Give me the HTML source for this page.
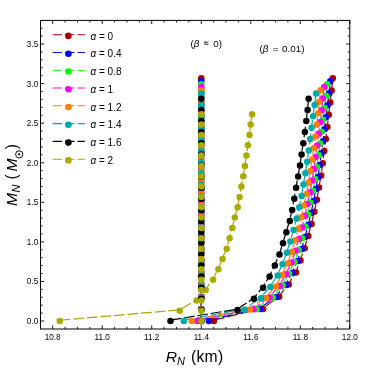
<!DOCTYPE html>
<html><head><meta charset="utf-8"><title>plot</title>
<style>html,body{margin:0;padding:0;background:#fff}svg{display:block;will-change:transform}text{font-family:"Liberation Sans",sans-serif;fill:#000}</style></head><body>
<svg width="374" height="368" viewBox="0 0 374 368">
<polyline points="213.9,320.2 263.2,308.1 279.2,296.0 288.8,283.8 296.0,271.7 300.5,259.6 304.7,247.4 308.3,235.3 311.6,223.2 314.4,211.0 317.0,198.9 319.0,186.7 321.2,174.6 322.8,162.5 324.3,150.3 325.9,138.2 327.4,126.1 328.8,113.9 330.3,101.8 331.7,89.6 332.8,77.5" fill="none" stroke="#aa0000" stroke-width="1.2" stroke-dasharray="10.8 2.8"/>
<polyline points="208.8,320.2 260.0,308.3 276.0,296.3 285.9,284.3 292.4,272.3 297.6,260.3 301.8,248.3 305.1,236.3 308.3,224.3 311.1,212.3 313.7,200.3 316.0,188.3 318.0,176.3 319.8,164.3 321.4,152.4 323.0,140.4 324.5,128.4 326.0,116.4 327.6,104.4 329.2,92.4 330.3,80.4" fill="none" stroke="#0000ff" stroke-width="1.2" stroke-dasharray="10.8 2.8"/>
<polyline points="201.5,320.2 256.6,308.4 272.8,296.6 282.6,284.7 289.1,272.9 294.5,261.1 298.7,249.2 302.1,237.4 305.4,225.6 308.0,213.7 310.4,201.9 313.0,190.0 315.1,178.2 317.0,166.4 318.5,154.5 320.0,142.7 321.5,130.8 323.0,119.0 324.5,107.2 326.0,95.3 327.1,83.5" fill="none" stroke="#00ff00" stroke-width="1.2" stroke-dasharray="10.8 2.8"/>
<polyline points="197.3,320.2 253.6,308.5 269.6,296.8 279.7,285.1 286.2,273.4 291.6,261.7 295.7,250.0 299.0,238.3 302.3,226.6 305.1,214.9 307.5,203.2 310.2,191.5 312.2,179.8 314.0,168.1 315.6,156.3 317.2,144.6 318.9,132.9 320.4,121.2 321.8,109.5 322.9,97.8 324.2,86.1" fill="none" stroke="#ff00ff" stroke-width="1.2" stroke-dasharray="10.8 2.8"/>
<polyline points="191.8,320.2 249.9,308.7 266.0,297.2 276.1,285.6 282.3,274.1 287.8,262.5 292.0,251.0 295.3,239.5 298.5,227.9 301.3,216.4 303.8,204.8 306.6,193.3 308.5,181.7 310.3,170.2 312.2,158.7 313.9,147.1 315.4,135.6 316.8,124.0 318.1,112.5 319.2,100.9 320.5,89.4" fill="none" stroke="#ff8000" stroke-width="1.2" stroke-dasharray="10.8 2.8"/>
<polyline points="183.8,320.2 244.6,308.9 261.1,297.5 270.4,286.1 277.7,274.8 282.6,263.4 286.9,252.0 290.4,240.6 293.6,229.3 296.6,217.9 299.3,206.5 301.6,195.2 303.5,183.8 305.4,172.4 307.2,161.0 308.8,149.7 310.2,138.3 311.6,126.9 313.1,115.5 314.7,104.2 316.1,92.8" fill="none" stroke="#00aaaa" stroke-width="1.2" stroke-dasharray="10.8 2.8"/>
<polyline points="170.5,320.2 237.5,309.1 253.9,298.0 263.1,286.9 269.6,275.8 274.9,264.7 279.5,253.6 283.0,242.5 286.4,231.3 289.8,220.2 292.2,209.1 294.3,198.0 296.1,186.9 298.1,175.8 300.0,164.7 301.6,153.6 303.3,142.4 304.9,131.3 306.3,120.2 307.6,109.1 308.6,98.0" fill="none" stroke="#000000" stroke-width="1.2" stroke-dasharray="10.8 2.8"/>
<polyline points="59.8,320.2 179.7,309.9 196.6,299.6 205.7,289.2 213.1,278.9 218.4,268.5 222.5,258.2 226.7,247.9 229.6,237.5 232.3,227.2 234.8,216.8 237.7,206.5 239.6,196.1 241.4,185.8 243.3,175.5 244.9,165.1 246.5,154.8 247.9,144.4 249.5,134.1 250.6,123.7 252.2,113.4" fill="none" stroke="#aaaa00" stroke-width="1.2" stroke-dasharray="10.8 2.8"/>
<g fill="#aa0000"><circle cx="213.9" cy="321.1" r="3.25"/><circle cx="263.2" cy="308.9" r="3.25"/><circle cx="279.2" cy="296.8" r="3.25"/><circle cx="288.8" cy="284.6" r="3.25"/><circle cx="296.0" cy="272.5" r="3.25"/><circle cx="300.5" cy="260.4" r="3.25"/><circle cx="304.7" cy="248.2" r="3.25"/><circle cx="308.3" cy="236.1" r="3.25"/><circle cx="311.6" cy="224.0" r="3.25"/><circle cx="314.4" cy="211.8" r="3.25"/><circle cx="317.0" cy="199.7" r="3.25"/><circle cx="319.0" cy="187.5" r="3.25"/><circle cx="321.2" cy="175.4" r="3.25"/><circle cx="322.8" cy="163.3" r="3.25"/><circle cx="324.3" cy="151.1" r="3.25"/><circle cx="325.9" cy="139.0" r="3.25"/><circle cx="327.4" cy="126.9" r="3.25"/><circle cx="328.8" cy="114.7" r="3.25"/><circle cx="330.3" cy="102.6" r="3.25"/><circle cx="331.7" cy="90.4" r="3.25"/><circle cx="332.8" cy="78.3" r="3.25"/></g>
<g fill="#0000ff"><circle cx="208.8" cy="321.1" r="3.25"/><circle cx="260.0" cy="309.1" r="3.25"/><circle cx="276.0" cy="297.1" r="3.25"/><circle cx="285.9" cy="285.1" r="3.25"/><circle cx="292.4" cy="273.1" r="3.25"/><circle cx="297.6" cy="261.1" r="3.25"/><circle cx="301.8" cy="249.1" r="3.25"/><circle cx="305.1" cy="237.1" r="3.25"/><circle cx="308.3" cy="225.1" r="3.25"/><circle cx="311.1" cy="213.1" r="3.25"/><circle cx="313.7" cy="201.1" r="3.25"/><circle cx="316.0" cy="189.1" r="3.25"/><circle cx="318.0" cy="177.1" r="3.25"/><circle cx="319.8" cy="165.1" r="3.25"/><circle cx="321.4" cy="153.2" r="3.25"/><circle cx="323.0" cy="141.2" r="3.25"/><circle cx="324.5" cy="129.2" r="3.25"/><circle cx="326.0" cy="117.2" r="3.25"/><circle cx="327.6" cy="105.2" r="3.25"/><circle cx="329.2" cy="93.2" r="3.25"/><circle cx="330.3" cy="81.2" r="3.25"/></g>
<g fill="#00ff00"><circle cx="201.5" cy="321.1" r="3.25"/><circle cx="256.6" cy="309.2" r="3.25"/><circle cx="272.8" cy="297.4" r="3.25"/><circle cx="282.6" cy="285.5" r="3.25"/><circle cx="289.1" cy="273.7" r="3.25"/><circle cx="294.5" cy="261.9" r="3.25"/><circle cx="298.7" cy="250.0" r="3.25"/><circle cx="302.1" cy="238.2" r="3.25"/><circle cx="305.4" cy="226.4" r="3.25"/><circle cx="308.0" cy="214.5" r="3.25"/><circle cx="310.4" cy="202.7" r="3.25"/><circle cx="313.0" cy="190.8" r="3.25"/><circle cx="315.1" cy="179.0" r="3.25"/><circle cx="317.0" cy="167.2" r="3.25"/><circle cx="318.5" cy="155.3" r="3.25"/><circle cx="320.0" cy="143.5" r="3.25"/><circle cx="321.5" cy="131.7" r="3.25"/><circle cx="323.0" cy="119.8" r="3.25"/><circle cx="324.5" cy="108.0" r="3.25"/><circle cx="326.0" cy="96.1" r="3.25"/><circle cx="327.1" cy="84.3" r="3.25"/></g>
<g fill="#ff00ff"><circle cx="197.3" cy="321.1" r="3.25"/><circle cx="253.6" cy="309.3" r="3.25"/><circle cx="269.6" cy="297.6" r="3.25"/><circle cx="279.7" cy="285.9" r="3.25"/><circle cx="286.2" cy="274.2" r="3.25"/><circle cx="291.6" cy="262.5" r="3.25"/><circle cx="295.7" cy="250.8" r="3.25"/><circle cx="299.0" cy="239.1" r="3.25"/><circle cx="302.3" cy="227.4" r="3.25"/><circle cx="305.1" cy="215.7" r="3.25"/><circle cx="307.5" cy="204.0" r="3.25"/><circle cx="310.2" cy="192.3" r="3.25"/><circle cx="312.2" cy="180.6" r="3.25"/><circle cx="314.0" cy="168.9" r="3.25"/><circle cx="315.6" cy="157.1" r="3.25"/><circle cx="317.2" cy="145.4" r="3.25"/><circle cx="318.9" cy="133.7" r="3.25"/><circle cx="320.4" cy="122.0" r="3.25"/><circle cx="321.8" cy="110.3" r="3.25"/><circle cx="322.9" cy="98.6" r="3.25"/><circle cx="324.2" cy="86.9" r="3.25"/></g>
<g fill="#ff8000"><circle cx="191.8" cy="321.1" r="3.25"/><circle cx="249.9" cy="309.5" r="3.25"/><circle cx="266.0" cy="298.0" r="3.25"/><circle cx="276.1" cy="286.4" r="3.25"/><circle cx="282.3" cy="274.9" r="3.25"/><circle cx="287.8" cy="263.3" r="3.25"/><circle cx="292.0" cy="251.8" r="3.25"/><circle cx="295.3" cy="240.3" r="3.25"/><circle cx="298.5" cy="228.7" r="3.25"/><circle cx="301.3" cy="217.2" r="3.25"/><circle cx="303.8" cy="205.6" r="3.25"/><circle cx="306.6" cy="194.1" r="3.25"/><circle cx="308.5" cy="182.5" r="3.25"/><circle cx="310.3" cy="171.0" r="3.25"/><circle cx="312.2" cy="159.5" r="3.25"/><circle cx="313.9" cy="147.9" r="3.25"/><circle cx="315.4" cy="136.4" r="3.25"/><circle cx="316.8" cy="124.8" r="3.25"/><circle cx="318.1" cy="113.3" r="3.25"/><circle cx="319.2" cy="101.7" r="3.25"/><circle cx="320.5" cy="90.2" r="3.25"/></g>
<g fill="#00aaaa"><circle cx="183.8" cy="321.1" r="3.25"/><circle cx="244.6" cy="309.7" r="3.25"/><circle cx="261.1" cy="298.3" r="3.25"/><circle cx="270.4" cy="286.9" r="3.25"/><circle cx="277.7" cy="275.6" r="3.25"/><circle cx="282.6" cy="264.2" r="3.25"/><circle cx="286.9" cy="252.8" r="3.25"/><circle cx="290.4" cy="241.4" r="3.25"/><circle cx="293.6" cy="230.1" r="3.25"/><circle cx="296.6" cy="218.7" r="3.25"/><circle cx="299.3" cy="207.3" r="3.25"/><circle cx="301.6" cy="196.0" r="3.25"/><circle cx="303.5" cy="184.6" r="3.25"/><circle cx="305.4" cy="173.2" r="3.25"/><circle cx="307.2" cy="161.8" r="3.25"/><circle cx="308.8" cy="150.5" r="3.25"/><circle cx="310.2" cy="139.1" r="3.25"/><circle cx="311.6" cy="127.7" r="3.25"/><circle cx="313.1" cy="116.3" r="3.25"/><circle cx="314.7" cy="105.0" r="3.25"/><circle cx="316.1" cy="93.6" r="3.25"/></g>
<g fill="#000000"><circle cx="170.5" cy="321.1" r="3.25"/><circle cx="237.5" cy="309.9" r="3.25"/><circle cx="253.9" cy="298.8" r="3.25"/><circle cx="263.1" cy="287.7" r="3.25"/><circle cx="269.6" cy="276.6" r="3.25"/><circle cx="274.9" cy="265.5" r="3.25"/><circle cx="279.5" cy="254.4" r="3.25"/><circle cx="283.0" cy="243.3" r="3.25"/><circle cx="286.4" cy="232.2" r="3.25"/><circle cx="289.8" cy="221.0" r="3.25"/><circle cx="292.2" cy="209.9" r="3.25"/><circle cx="294.3" cy="198.8" r="3.25"/><circle cx="296.1" cy="187.7" r="3.25"/><circle cx="298.1" cy="176.6" r="3.25"/><circle cx="300.0" cy="165.5" r="3.25"/><circle cx="301.6" cy="154.4" r="3.25"/><circle cx="303.3" cy="143.2" r="3.25"/><circle cx="304.9" cy="132.1" r="3.25"/><circle cx="306.3" cy="121.0" r="3.25"/><circle cx="307.6" cy="109.9" r="3.25"/><circle cx="308.6" cy="98.8" r="3.25"/></g>
<g fill="#aaaa00"><circle cx="59.8" cy="321.1" r="3.25"/><circle cx="179.7" cy="310.7" r="3.25"/><circle cx="196.6" cy="300.4" r="3.25"/><circle cx="205.7" cy="290.0" r="3.25"/><circle cx="213.1" cy="279.7" r="3.25"/><circle cx="218.4" cy="269.3" r="3.25"/><circle cx="222.5" cy="259.0" r="3.25"/><circle cx="226.7" cy="248.7" r="3.25"/><circle cx="229.6" cy="238.3" r="3.25"/><circle cx="232.3" cy="228.0" r="3.25"/><circle cx="234.8" cy="217.6" r="3.25"/><circle cx="237.7" cy="207.3" r="3.25"/><circle cx="239.6" cy="196.9" r="3.25"/><circle cx="241.4" cy="186.6" r="3.25"/><circle cx="243.3" cy="176.3" r="3.25"/><circle cx="244.9" cy="165.9" r="3.25"/><circle cx="246.5" cy="155.6" r="3.25"/><circle cx="247.9" cy="145.2" r="3.25"/><circle cx="249.5" cy="134.9" r="3.25"/><circle cx="250.6" cy="124.5" r="3.25"/><circle cx="252.2" cy="114.2" r="3.25"/></g>
<polyline points="201.3,320.2 201.3,308.1 201.3,296.0 201.3,283.8 201.3,271.7 201.3,259.6 201.3,247.4 201.3,235.3 201.3,223.2 201.3,211.0 201.3,198.9 201.3,186.7 201.3,174.6 201.3,162.5 201.3,150.3 201.3,138.2 201.3,126.1 201.3,113.9 201.3,101.8 201.3,89.6 201.3,77.5" fill="none" stroke="#aa0000" stroke-width="1.2" stroke-dasharray="10.8 2.8"/>
<polyline points="201.3,320.2 201.3,308.3 201.3,296.3 201.3,284.3 201.3,272.3 201.3,260.3 201.3,248.3 201.3,236.3 201.3,224.3 201.3,212.3 201.3,200.3 201.3,188.3 201.3,176.3 201.3,164.3 201.3,152.4 201.3,140.4 201.3,128.4 201.3,116.4 201.3,104.4 201.3,92.4 201.3,80.4" fill="none" stroke="#0000ff" stroke-width="1.2" stroke-dasharray="10.8 2.8"/>
<polyline points="201.3,320.2 201.3,308.4 201.3,296.6 201.3,284.7 201.3,272.9 201.3,261.1 201.3,249.2 201.3,237.4 201.3,225.6 201.3,213.7 201.3,201.9 201.3,190.0 201.3,178.2 201.3,166.4 201.3,154.5 201.3,142.7 201.3,130.8 201.3,119.0 201.3,107.2 201.3,95.3 201.3,83.5" fill="none" stroke="#00ff00" stroke-width="1.2" stroke-dasharray="10.8 2.8"/>
<polyline points="201.3,320.2 201.3,308.5 201.3,296.8 201.3,285.1 201.3,273.4 201.3,261.7 201.3,250.0 201.3,238.3 201.3,226.6 201.3,214.9 201.3,203.2 201.3,191.5 201.3,179.8 201.3,168.1 201.3,156.3 201.3,144.6 201.3,132.9 201.3,121.2 201.3,109.5 201.3,97.8 201.3,86.1" fill="none" stroke="#ff00ff" stroke-width="1.2" stroke-dasharray="10.8 2.8"/>
<polyline points="201.3,320.2 201.3,308.7 201.3,297.2 201.3,285.6 201.3,274.1 201.3,262.5 201.3,251.0 201.3,239.5 201.3,227.9 201.3,216.4 201.3,204.8 201.3,193.3 201.3,181.7 201.3,170.2 201.3,158.7 201.3,147.1 201.3,135.6 201.3,124.0 201.3,112.5 201.3,100.9 201.3,89.4" fill="none" stroke="#ff8000" stroke-width="1.2" stroke-dasharray="10.8 2.8"/>
<polyline points="201.3,320.2 201.3,308.9 201.3,297.5 201.3,286.1 201.3,274.8 201.3,263.4 201.3,252.0 201.3,240.6 201.3,229.3 201.3,217.9 201.3,206.5 201.3,195.2 201.3,183.8 201.3,172.4 201.3,161.0 201.3,149.7 201.3,138.3 201.3,126.9 201.3,115.5 201.3,104.2 201.3,92.8" fill="none" stroke="#00aaaa" stroke-width="1.2" stroke-dasharray="10.8 2.8"/>
<polyline points="201.3,320.2 201.3,309.1 201.3,298.0 201.3,286.9 201.3,275.8 201.3,264.7 201.3,253.6 201.3,242.5 201.3,231.3 201.3,220.2 201.3,209.1 201.3,198.0 201.3,186.9 201.3,175.8 201.3,164.7 201.3,153.6 201.3,142.4 201.3,131.3 201.3,120.2 201.3,109.1 201.3,98.0" fill="none" stroke="#000000" stroke-width="1.2" stroke-dasharray="10.8 2.8"/>
<polyline points="201.3,320.2 201.3,309.9 201.3,299.6 201.3,289.2 201.3,278.9 201.3,268.5 201.3,258.2 201.3,247.9 201.3,237.5 201.3,227.2 201.3,216.8 201.3,206.5 201.3,196.1 201.3,185.8 201.3,175.5 201.3,165.1 201.3,154.8 201.3,144.4 201.3,134.1 201.3,123.7 201.3,113.4" fill="none" stroke="#aaaa00" stroke-width="1.2" stroke-dasharray="10.8 2.8"/>
<g fill="#aa0000"><circle cx="201.3" cy="321.1" r="3.25"/><circle cx="201.3" cy="308.9" r="3.25"/><circle cx="201.3" cy="296.8" r="3.25"/><circle cx="201.3" cy="284.6" r="3.25"/><circle cx="201.3" cy="272.5" r="3.25"/><circle cx="201.3" cy="260.4" r="3.25"/><circle cx="201.3" cy="248.2" r="3.25"/><circle cx="201.3" cy="236.1" r="3.25"/><circle cx="201.3" cy="224.0" r="3.25"/><circle cx="201.3" cy="211.8" r="3.25"/><circle cx="201.3" cy="199.7" r="3.25"/><circle cx="201.3" cy="187.5" r="3.25"/><circle cx="201.3" cy="175.4" r="3.25"/><circle cx="201.3" cy="163.3" r="3.25"/><circle cx="201.3" cy="151.1" r="3.25"/><circle cx="201.3" cy="139.0" r="3.25"/><circle cx="201.3" cy="126.9" r="3.25"/><circle cx="201.3" cy="114.7" r="3.25"/><circle cx="201.3" cy="102.6" r="3.25"/><circle cx="201.3" cy="90.4" r="3.25"/><circle cx="201.3" cy="78.3" r="3.25"/></g>
<g fill="#0000ff"><circle cx="201.3" cy="321.1" r="3.25"/><circle cx="201.3" cy="309.1" r="3.25"/><circle cx="201.3" cy="297.1" r="3.25"/><circle cx="201.3" cy="285.1" r="3.25"/><circle cx="201.3" cy="273.1" r="3.25"/><circle cx="201.3" cy="261.1" r="3.25"/><circle cx="201.3" cy="249.1" r="3.25"/><circle cx="201.3" cy="237.1" r="3.25"/><circle cx="201.3" cy="225.1" r="3.25"/><circle cx="201.3" cy="213.1" r="3.25"/><circle cx="201.3" cy="201.1" r="3.25"/><circle cx="201.3" cy="189.1" r="3.25"/><circle cx="201.3" cy="177.1" r="3.25"/><circle cx="201.3" cy="165.1" r="3.25"/><circle cx="201.3" cy="153.2" r="3.25"/><circle cx="201.3" cy="141.2" r="3.25"/><circle cx="201.3" cy="129.2" r="3.25"/><circle cx="201.3" cy="117.2" r="3.25"/><circle cx="201.3" cy="105.2" r="3.25"/><circle cx="201.3" cy="93.2" r="3.25"/><circle cx="201.3" cy="81.2" r="3.25"/></g>
<g fill="#00ff00"><circle cx="201.3" cy="321.1" r="3.25"/><circle cx="201.3" cy="309.2" r="3.25"/><circle cx="201.3" cy="297.4" r="3.25"/><circle cx="201.3" cy="285.5" r="3.25"/><circle cx="201.3" cy="273.7" r="3.25"/><circle cx="201.3" cy="261.9" r="3.25"/><circle cx="201.3" cy="250.0" r="3.25"/><circle cx="201.3" cy="238.2" r="3.25"/><circle cx="201.3" cy="226.4" r="3.25"/><circle cx="201.3" cy="214.5" r="3.25"/><circle cx="201.3" cy="202.7" r="3.25"/><circle cx="201.3" cy="190.8" r="3.25"/><circle cx="201.3" cy="179.0" r="3.25"/><circle cx="201.3" cy="167.2" r="3.25"/><circle cx="201.3" cy="155.3" r="3.25"/><circle cx="201.3" cy="143.5" r="3.25"/><circle cx="201.3" cy="131.7" r="3.25"/><circle cx="201.3" cy="119.8" r="3.25"/><circle cx="201.3" cy="108.0" r="3.25"/><circle cx="201.3" cy="96.1" r="3.25"/><circle cx="201.3" cy="84.3" r="3.25"/></g>
<g fill="#ff00ff"><circle cx="201.3" cy="321.1" r="3.25"/><circle cx="201.3" cy="309.3" r="3.25"/><circle cx="201.3" cy="297.6" r="3.25"/><circle cx="201.3" cy="285.9" r="3.25"/><circle cx="201.3" cy="274.2" r="3.25"/><circle cx="201.3" cy="262.5" r="3.25"/><circle cx="201.3" cy="250.8" r="3.25"/><circle cx="201.3" cy="239.1" r="3.25"/><circle cx="201.3" cy="227.4" r="3.25"/><circle cx="201.3" cy="215.7" r="3.25"/><circle cx="201.3" cy="204.0" r="3.25"/><circle cx="201.3" cy="192.3" r="3.25"/><circle cx="201.3" cy="180.6" r="3.25"/><circle cx="201.3" cy="168.9" r="3.25"/><circle cx="201.3" cy="157.1" r="3.25"/><circle cx="201.3" cy="145.4" r="3.25"/><circle cx="201.3" cy="133.7" r="3.25"/><circle cx="201.3" cy="122.0" r="3.25"/><circle cx="201.3" cy="110.3" r="3.25"/><circle cx="201.3" cy="98.6" r="3.25"/><circle cx="201.3" cy="86.9" r="3.25"/></g>
<g fill="#ff8000"><circle cx="201.3" cy="321.1" r="3.25"/><circle cx="201.3" cy="309.5" r="3.25"/><circle cx="201.3" cy="298.0" r="3.25"/><circle cx="201.3" cy="286.4" r="3.25"/><circle cx="201.3" cy="274.9" r="3.25"/><circle cx="201.3" cy="263.3" r="3.25"/><circle cx="201.3" cy="251.8" r="3.25"/><circle cx="201.3" cy="240.3" r="3.25"/><circle cx="201.3" cy="228.7" r="3.25"/><circle cx="201.3" cy="217.2" r="3.25"/><circle cx="201.3" cy="205.6" r="3.25"/><circle cx="201.3" cy="194.1" r="3.25"/><circle cx="201.3" cy="182.5" r="3.25"/><circle cx="201.3" cy="171.0" r="3.25"/><circle cx="201.3" cy="159.5" r="3.25"/><circle cx="201.3" cy="147.9" r="3.25"/><circle cx="201.3" cy="136.4" r="3.25"/><circle cx="201.3" cy="124.8" r="3.25"/><circle cx="201.3" cy="113.3" r="3.25"/><circle cx="201.3" cy="101.7" r="3.25"/><circle cx="201.3" cy="90.2" r="3.25"/></g>
<g fill="#00aaaa"><circle cx="201.3" cy="321.1" r="3.25"/><circle cx="201.3" cy="309.7" r="3.25"/><circle cx="201.3" cy="298.3" r="3.25"/><circle cx="201.3" cy="286.9" r="3.25"/><circle cx="201.3" cy="275.6" r="3.25"/><circle cx="201.3" cy="264.2" r="3.25"/><circle cx="201.3" cy="252.8" r="3.25"/><circle cx="201.3" cy="241.4" r="3.25"/><circle cx="201.3" cy="230.1" r="3.25"/><circle cx="201.3" cy="218.7" r="3.25"/><circle cx="201.3" cy="207.3" r="3.25"/><circle cx="201.3" cy="196.0" r="3.25"/><circle cx="201.3" cy="184.6" r="3.25"/><circle cx="201.3" cy="173.2" r="3.25"/><circle cx="201.3" cy="161.8" r="3.25"/><circle cx="201.3" cy="150.5" r="3.25"/><circle cx="201.3" cy="139.1" r="3.25"/><circle cx="201.3" cy="127.7" r="3.25"/><circle cx="201.3" cy="116.3" r="3.25"/><circle cx="201.3" cy="105.0" r="3.25"/><circle cx="201.3" cy="93.6" r="3.25"/></g>
<g fill="#000000"><circle cx="201.3" cy="321.1" r="3.25"/><circle cx="201.3" cy="309.9" r="3.25"/><circle cx="201.3" cy="298.8" r="3.25"/><circle cx="201.3" cy="287.7" r="3.25"/><circle cx="201.3" cy="276.6" r="3.25"/><circle cx="201.3" cy="265.5" r="3.25"/><circle cx="201.3" cy="254.4" r="3.25"/><circle cx="201.3" cy="243.3" r="3.25"/><circle cx="201.3" cy="232.2" r="3.25"/><circle cx="201.3" cy="221.0" r="3.25"/><circle cx="201.3" cy="209.9" r="3.25"/><circle cx="201.3" cy="198.8" r="3.25"/><circle cx="201.3" cy="187.7" r="3.25"/><circle cx="201.3" cy="176.6" r="3.25"/><circle cx="201.3" cy="165.5" r="3.25"/><circle cx="201.3" cy="154.4" r="3.25"/><circle cx="201.3" cy="143.2" r="3.25"/><circle cx="201.3" cy="132.1" r="3.25"/><circle cx="201.3" cy="121.0" r="3.25"/><circle cx="201.3" cy="109.9" r="3.25"/><circle cx="201.3" cy="98.8" r="3.25"/></g>
<g fill="#aaaa00"><circle cx="201.3" cy="321.1" r="3.25"/><circle cx="201.3" cy="310.7" r="3.25"/><circle cx="201.3" cy="300.4" r="3.25"/><circle cx="201.3" cy="290.0" r="3.25"/><circle cx="201.3" cy="279.7" r="3.25"/><circle cx="201.3" cy="269.3" r="3.25"/><circle cx="201.3" cy="259.0" r="3.25"/><circle cx="201.3" cy="248.7" r="3.25"/><circle cx="201.3" cy="238.3" r="3.25"/><circle cx="201.3" cy="228.0" r="3.25"/><circle cx="201.3" cy="217.6" r="3.25"/><circle cx="201.3" cy="207.3" r="3.25"/><circle cx="201.3" cy="196.9" r="3.25"/><circle cx="201.3" cy="186.6" r="3.25"/><circle cx="201.3" cy="176.3" r="3.25"/><circle cx="201.3" cy="165.9" r="3.25"/><circle cx="201.3" cy="155.6" r="3.25"/><circle cx="201.3" cy="145.2" r="3.25"/><circle cx="201.3" cy="134.9" r="3.25"/><circle cx="201.3" cy="124.5" r="3.25"/><circle cx="201.3" cy="114.2" r="3.25"/></g>
<rect x="40.5" y="20.4" width="309.3" height="308.6" fill="none" stroke="#000" stroke-width="1"/>
<path d="M52.70 329.0v-3.7M52.70 20.4v3.7M65.08 329.0v-2.1M65.08 20.4v2.1M77.46 329.0v-2.1M77.46 20.4v2.1M89.84 329.0v-2.1M89.84 20.4v2.1M102.22 329.0v-3.7M102.22 20.4v3.7M114.60 329.0v-2.1M114.60 20.4v2.1M126.98 329.0v-2.1M126.98 20.4v2.1M139.36 329.0v-2.1M139.36 20.4v2.1M151.74 329.0v-3.7M151.74 20.4v3.7M164.12 329.0v-2.1M164.12 20.4v2.1M176.50 329.0v-2.1M176.50 20.4v2.1M188.88 329.0v-2.1M188.88 20.4v2.1M201.26 329.0v-3.7M201.26 20.4v3.7M213.64 329.0v-2.1M213.64 20.4v2.1M226.02 329.0v-2.1M226.02 20.4v2.1M238.40 329.0v-2.1M238.40 20.4v2.1M250.78 329.0v-3.7M250.78 20.4v3.7M263.16 329.0v-2.1M263.16 20.4v2.1M275.54 329.0v-2.1M275.54 20.4v2.1M287.92 329.0v-2.1M287.92 20.4v2.1M300.30 329.0v-3.7M300.30 20.4v3.7M312.68 329.0v-2.1M312.68 20.4v2.1M325.06 329.0v-2.1M325.06 20.4v2.1M337.44 329.0v-2.1M337.44 20.4v2.1M349.82 329.0v-3.7M349.82 20.4v3.7M40.5 321.00h3.7M349.8 321.00h-3.7M40.5 313.09h2.1M349.8 313.09h-2.1M40.5 305.17h2.1M349.8 305.17h-2.1M40.5 297.26h2.1M349.8 297.26h-2.1M40.5 289.34h2.1M349.8 289.34h-2.1M40.5 281.43h3.7M349.8 281.43h-3.7M40.5 273.52h2.1M349.8 273.52h-2.1M40.5 265.60h2.1M349.8 265.60h-2.1M40.5 257.69h2.1M349.8 257.69h-2.1M40.5 249.77h2.1M349.8 249.77h-2.1M40.5 241.86h3.7M349.8 241.86h-3.7M40.5 233.95h2.1M349.8 233.95h-2.1M40.5 226.03h2.1M349.8 226.03h-2.1M40.5 218.12h2.1M349.8 218.12h-2.1M40.5 210.20h2.1M349.8 210.20h-2.1M40.5 202.29h3.7M349.8 202.29h-3.7M40.5 194.38h2.1M349.8 194.38h-2.1M40.5 186.46h2.1M349.8 186.46h-2.1M40.5 178.55h2.1M349.8 178.55h-2.1M40.5 170.63h2.1M349.8 170.63h-2.1M40.5 162.72h3.7M349.8 162.72h-3.7M40.5 154.81h2.1M349.8 154.81h-2.1M40.5 146.89h2.1M349.8 146.89h-2.1M40.5 138.98h2.1M349.8 138.98h-2.1M40.5 131.06h2.1M349.8 131.06h-2.1M40.5 123.15h3.7M349.8 123.15h-3.7M40.5 115.24h2.1M349.8 115.24h-2.1M40.5 107.32h2.1M349.8 107.32h-2.1M40.5 99.41h2.1M349.8 99.41h-2.1M40.5 91.49h2.1M349.8 91.49h-2.1M40.5 83.58h3.7M349.8 83.58h-3.7M40.5 75.67h2.1M349.8 75.67h-2.1M40.5 67.75h2.1M349.8 67.75h-2.1M40.5 59.84h2.1M349.8 59.84h-2.1M40.5 51.92h2.1M349.8 51.92h-2.1M40.5 44.01h3.7M349.8 44.01h-3.7M40.5 36.10h2.1M349.8 36.10h-2.1M40.5 28.18h2.1M349.8 28.18h-2.1" stroke="#000" stroke-width="0.9" fill="none"/>
<text x="52.7" y="340.0" font-size="8.2" text-anchor="middle">10.8</text>
<text x="102.2" y="340.0" font-size="8.2" text-anchor="middle">11.0</text>
<text x="151.7" y="340.0" font-size="8.2" text-anchor="middle">11.2</text>
<text x="201.3" y="340.0" font-size="8.2" text-anchor="middle">11.4</text>
<text x="250.8" y="340.0" font-size="8.2" text-anchor="middle">11.6</text>
<text x="300.3" y="340.0" font-size="8.2" text-anchor="middle">11.8</text>
<text x="349.8" y="340.0" font-size="8.2" text-anchor="middle">12.0</text>
<text x="38.2" y="323.9" font-size="8.2" text-anchor="end">0.0</text>
<text x="38.2" y="284.3" font-size="8.2" text-anchor="end">0.5</text>
<text x="38.2" y="244.8" font-size="8.2" text-anchor="end">1.0</text>
<text x="38.2" y="205.2" font-size="8.2" text-anchor="end">1.5</text>
<text x="38.2" y="165.6" font-size="8.2" text-anchor="end">2.0</text>
<text x="38.2" y="126.1" font-size="8.2" text-anchor="end">2.5</text>
<text x="38.2" y="86.5" font-size="8.2" text-anchor="end">3.0</text>
<text x="38.2" y="46.9" font-size="8.2" text-anchor="end">3.5</text>
<g><text transform="translate(165.8,362.2) scale(1,0.97)" font-size="15.7" font-style="italic">R</text><text transform="translate(176.9,364.6) scale(1,0.97)" font-size="11" font-style="italic">N</text><text x="190.9" y="362.2" font-size="15.7" letter-spacing="0.3">(km)</text></g>
<g transform="translate(16.9,205.6) rotate(-90)"><text transform="translate(-0.5,0) scale(1,0.97)" font-size="15.7" font-style="italic">M</text><text transform="translate(13.2,3.2) scale(1,0.97)" font-size="11" font-style="italic">N</text><text x="26.2" y="0" font-size="15.7">(</text><text transform="translate(34.2,0) scale(1,0.97)" font-size="15.7" font-style="italic">M</text><circle cx="51.2" cy="2.3" r="3.6" fill="none" stroke="#000" stroke-width="0.95"/><circle cx="51.2" cy="2.3" r="1.1" fill="#000"/><text x="56.3" y="0" font-size="15.7">)</text></g>
<g font-size="9.8"><text x="190.5" y="46.6">(<tspan font-style="italic">β</tspan></text><text x="206.3" y="46.4" font-size="8.5" font-weight="bold" text-anchor="middle">≈</text><text x="213.2" y="46.6">0)</text></g>
<g font-size="9.8"><text x="259.4" y="51.9">(<tspan font-style="italic">β</tspan></text><text x="272.7" y="51.9">=</text><text x="282.1" y="51.9">0.01)</text></g>
<path d="M52.7 34.7H84.9" stroke="#aa0000" stroke-width="1.1" stroke-dasharray="9.3 3.05" fill="none"/>
<circle cx="68.4" cy="35.9" r="3.3" fill="#aa0000"/>
<text x="90.5" y="39.5" font-size="10.0"><tspan font-style="italic">α</tspan> = 0</text>
<path d="M52.7 52.5H84.9" stroke="#0000ff" stroke-width="1.1" stroke-dasharray="9.3 3.05" fill="none"/>
<circle cx="68.4" cy="53.7" r="3.3" fill="#0000ff"/>
<text x="90.5" y="57.3" font-size="10.0"><tspan font-style="italic">α</tspan> = 0.4</text>
<path d="M52.7 70.3H84.9" stroke="#00ff00" stroke-width="1.1" stroke-dasharray="9.3 3.05" fill="none"/>
<circle cx="68.4" cy="71.5" r="3.3" fill="#00ff00"/>
<text x="90.5" y="75.1" font-size="10.0"><tspan font-style="italic">α</tspan> = 0.8</text>
<path d="M52.7 88.0H84.9" stroke="#ff00ff" stroke-width="1.1" stroke-dasharray="9.3 3.05" fill="none"/>
<circle cx="68.4" cy="89.2" r="3.3" fill="#ff00ff"/>
<text x="90.5" y="92.8" font-size="10.0"><tspan font-style="italic">α</tspan> = 1</text>
<path d="M52.7 105.8H84.9" stroke="#ff8000" stroke-width="1.1" stroke-dasharray="9.3 3.05" fill="none"/>
<circle cx="68.4" cy="107.0" r="3.3" fill="#ff8000"/>
<text x="90.5" y="110.6" font-size="10.0"><tspan font-style="italic">α</tspan> = 1.2</text>
<path d="M52.7 123.6H84.9" stroke="#00aaaa" stroke-width="1.1" stroke-dasharray="9.3 3.05" fill="none"/>
<circle cx="68.4" cy="124.8" r="3.3" fill="#00aaaa"/>
<text x="90.5" y="128.4" font-size="10.0"><tspan font-style="italic">α</tspan> = 1.4</text>
<path d="M52.7 141.4H84.9" stroke="#000000" stroke-width="1.1" stroke-dasharray="9.3 3.05" fill="none"/>
<circle cx="68.4" cy="142.6" r="3.3" fill="#000000"/>
<text x="90.5" y="146.2" font-size="10.0"><tspan font-style="italic">α</tspan> = 1.6</text>
<path d="M52.7 159.2H84.9" stroke="#aaaa00" stroke-width="1.1" stroke-dasharray="9.3 3.05" fill="none"/>
<circle cx="68.4" cy="160.4" r="3.3" fill="#aaaa00"/>
<text x="90.5" y="164.0" font-size="10.0"><tspan font-style="italic">α</tspan> = 2</text>
</svg></body></html>
